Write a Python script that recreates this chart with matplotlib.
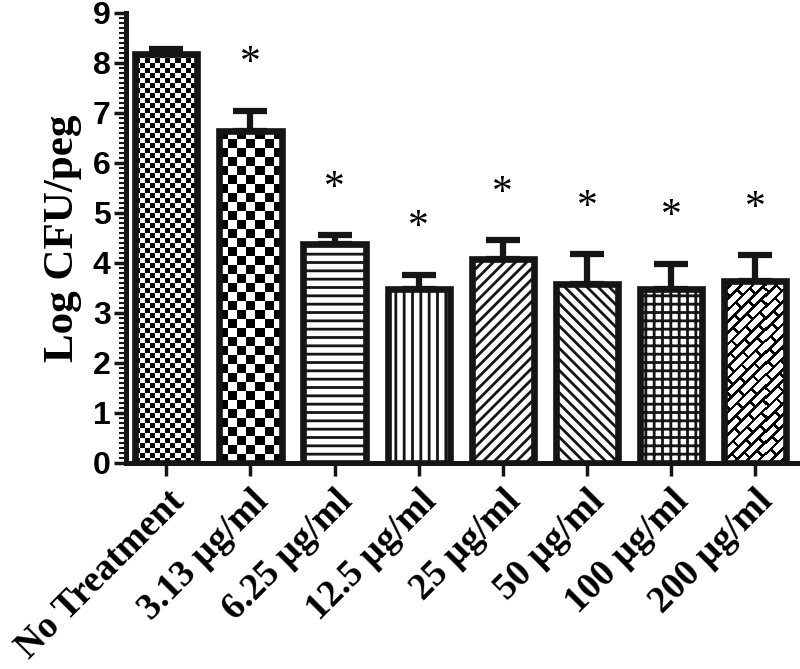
import numpy as np
import matplotlib
matplotlib.use("Agg")
import matplotlib.pyplot as plt

# data
groups = ["No Treatment", "3.13 µg/ml", "6.25 µg/ml", "12.5 µg/ml",
          "25 µg/ml", "50 µg/ml", "100 µg/ml", "200 µg/ml"]
log_cfu = [8.18, 6.64, 4.38, 3.47, 4.08, 3.58, 3.48, 3.63]
sem = [0.10, 0.40, 0.17, 0.29, 0.37, 0.59, 0.50, 0.52]
significant = [False, True, True, True, True, True, True, True]

# fill style per bar: image pattern name or a hatch string
patterns = ["checker5", "checker9", None, None, None, None, None, "weave"]
hatches = ["", "", "--", "||", "///", "\\\\\\", "++", ""]

plt.rcParams["hatch.linewidth"] = 2.0


def pattern_image(kind, nx, ny):
    j, i = np.meshgrid(np.arange(nx), np.arange(ny))
    if kind.startswith("checker"):
        c = int(kind[7:])
        return ((i // c + j // c) % 2).astype(float)
    # basket / brick weave running along the diagonal
    u = (j + i) / np.sqrt(2)
    v = (i - j) / np.sqrt(2)
    H, L, t = 8.0, 20.0, 2.6
    row = np.floor(v / H)
    off = (row % 2) * L / 2
    black = ((v % H) < t) | (((u + off) % L) < t)
    return np.where(black, 0.0, 1.0)


fig = plt.figure(figsize=(8, 6.69), dpi=100)
ax = fig.add_axes([0.1575, 0.308, 0.839, 0.6726])

x = np.arange(len(groups))
width = 0.74
xlim = (-0.48, 7.5)
ylim = (0, 9)
ax.set_xlim(*xlim)
ax.set_ylim(*ylim)

# error bars (upper only), drawn under the bars
ax.errorbar(x, log_cfu, yerr=[np.zeros(len(sem)), sem], fmt="none",
            ecolor="#151515", elinewidth=4.5, capsize=12, capthick=4.5, zorder=1)

# white background of the bars
ax.bar(x, log_cfu, width, color="white", edgecolor="none", zorder=2)

px_x = ax.bbox.width / (xlim[1] - xlim[0])
px_y = ax.bbox.height / (ylim[1] - ylim[0])
outline = ax.bar(x, log_cfu, width, facecolor="none", edgecolor="#151515",
                 linewidth=4.8, zorder=4)
for i, bar in enumerate(outline):
    bar.set_hatch(hatches[i])
    if patterns[i]:
        nx = int(np.ceil(width * px_x))
        ny = int(np.ceil(log_cfu[i] * px_y))
        img = pattern_image(patterns[i], nx, ny)
        left = x[i] - width / 2
        im = ax.imshow(img, cmap="gray", origin="lower", aspect="auto",
                       interpolation="nearest", vmin=0, vmax=1,
                       extent=(left, left + nx / px_x, 0, ny / px_y), zorder=3)
        im.set_clip_path(bar)

ax.set_xlim(*xlim)
ax.set_ylim(*ylim)

# significance stars
for i in range(len(groups)):
    if significant[i]:
        ax.text(x[i], log_cfu[i] + sem[i] + 0.55, "*", ha="center", va="bottom",
                fontsize=30, family="Liberation Serif")

for side in ["top", "right"]:
    ax.spines[side].set_visible(False)
for side in ["left", "bottom"]:
    ax.spines[side].set_linewidth(3.6)
    ax.spines[side].set_color("#151515")

ax.set_yticks(np.arange(0, 10, 1))
ax.set_yticks(np.arange(0, 9.01, 0.1), minor=True)
ax.tick_params(axis="y", which="major", length=9, width=2.5, color="#151515")
ax.tick_params(axis="y", which="minor", length=5, width=1.5, color="#151515")
ax.tick_params(axis="x", which="major", length=9, width=2.5, color="#151515")
ax.set_xticks(x)
ax.set_xticklabels(groups, rotation=45, ha="right", rotation_mode="anchor",
                   fontsize=27, fontweight="bold", family="Liberation Serif")
for lab in ax.get_yticklabels():
    lab.set_fontsize(23)
    lab.set_fontweight("bold")
    lab.set_family("Liberation Sans")
ax.tick_params(axis="y", pad=2)
ax.tick_params(axis="x", pad=6)

ax.set_ylabel("Log CFU/peg", fontsize=31, fontweight="bold",
              family="Liberation Serif", labelpad=8)

fig.savefig("out.png", dpi=100)
